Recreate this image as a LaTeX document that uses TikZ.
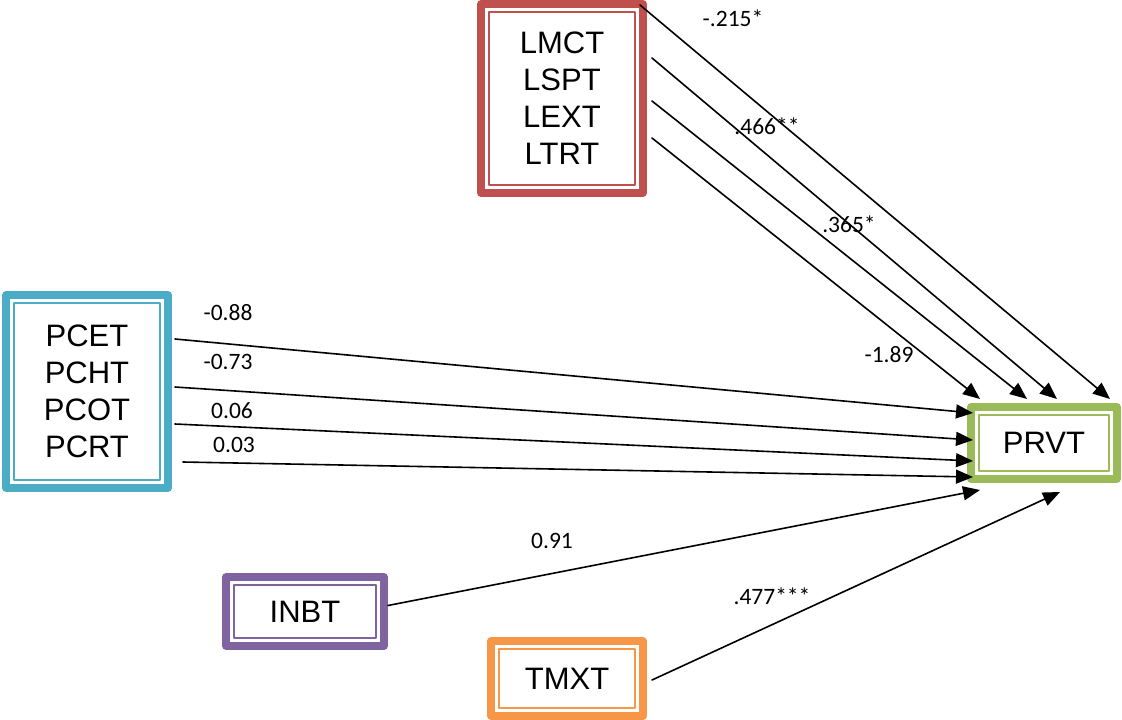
\documentclass[tikz,border=0pt]{standalone}
\usepackage{fontspec}
\setmainfont{Liberation Sans}
\newfontfamily\numfont{Carlito}
\usetikzlibrary{arrows.meta,calc}
\definecolor{boxred}{HTML}{C0504D}
\definecolor{boxblue}{HTML}{4BACC6}
\definecolor{boxgreen}{HTML}{9BBB59}
\definecolor{boxpurple}{HTML}{8064A2}
\definecolor{boxorange}{HTML}{F79646}
\begin{document}
\begin{tikzpicture}[x=1pt, y=-1pt, >={Triangle[length=17pt,width=14pt]}, line join=round, line cap=round,
	box/.style={draw=#1, line width=7.5pt, fill=white, inner sep=0pt, outer sep=0pt, align=center, font=\fontsize{31}{37}\selectfont},
	coef/.style={font=\numfont\fontsize{23.5}{27}\selectfont, inner sep=0pt},
	link/.style={->, line width=1.6pt}]
	\useasboundingbox (0,0) rectangle (1122,720);
	% Boxes
	\node[box=boxred, minimum width=162pt, minimum height=189pt] (lm) at (562,98.5) {LMCT\\LSPT\\LEXT\\LTRT};
	\node[box=boxblue, minimum width=162pt, minimum height=193pt] (pc) at (87,391.5) {PCET\\PCHT\\PCOT\\PCRT};
	\node[box=boxgreen, minimum width=146pt, minimum height=72pt] (pr) at (1044,443) {PRVT};
	\node[box=boxpurple, minimum width=158pt, minimum height=69pt] (inb) at (305,611.5) {INBT};
	\node[box=boxorange, minimum width=152pt, minimum height=75pt] (tm) at (567,678.5) {TMXT};
	% Inner frames
	\foreach \n/\col in {lm/boxred, pc/boxblue, pr/boxgreen, inb/boxpurple, tm/boxorange}
	\draw[draw=\col, line width=2.3pt] ($(\n.north west)+(7.9,7.9)$) rectangle ($(\n.south east)+(-7.9,-7.9)$);
	% Paths from LMCT group
	\draw[link] ($(lm.north east)+(-3,1)$) -- ($(pr.north)+(66,-8)$);
	\draw[link] ($(lm.east)+(9,-40.5)$) -- ($(pr.north)+(13,-8)$);
	\draw[link] ($(lm.east)+(9,2.5)$) -- ($(pr.north)+(-17,-8)$);
	\draw[link] ($(lm.east)+(9,39.5)$) -- ($(pr.north)+(-64,-8)$);
	% Paths from PCET group
	\draw[link] ($(pc.east)+(7,-52.5)$) -- ($(pr.west)+(2,-30)$);
	\draw[link] ($(pc.east)+(7,-4.5)$) -- ($(pr.west)+(2,-3)$);
	\draw[link] ($(pc.east)+(7,32.5)$) -- ($(pr.west)+(2,18)$);
	\draw[link] ($(pc.east)+(15,70.5)$) -- ($(pr.west)+(2,34)$);
	% Paths from INBT and TMXT
	\draw[link] ($(inb.east)+(4,-6)$) -- ($(pr.south west)+(9,11)$);
	\draw[link] ($(tm.east)+(9,1.5)$) -- ($(pr.south)+(16,13)$);
	% Coefficients
	\node[coef] (k1) at (733,18) {-.215*};
	\node[coef] (k2) at (767,126) {.466**};
	\node[coef] (k3) at (849,224) {.365*};
	\node[coef] (k4) at (889,355) {-1.89};
	\node[coef] (k5) at (228,313) {-0.88};
	\node[coef] (k6) at (228,362) {-0.73};
	\node[coef] (k7) at (232,411) {0.06};
	\node[coef] (k8) at (234,445) {0.03};
	\node[coef] (k9) at (552,541) {0.91};
	\node[coef] (k10) at (772,596) {.477***};
\end{tikzpicture}
\end{document}
